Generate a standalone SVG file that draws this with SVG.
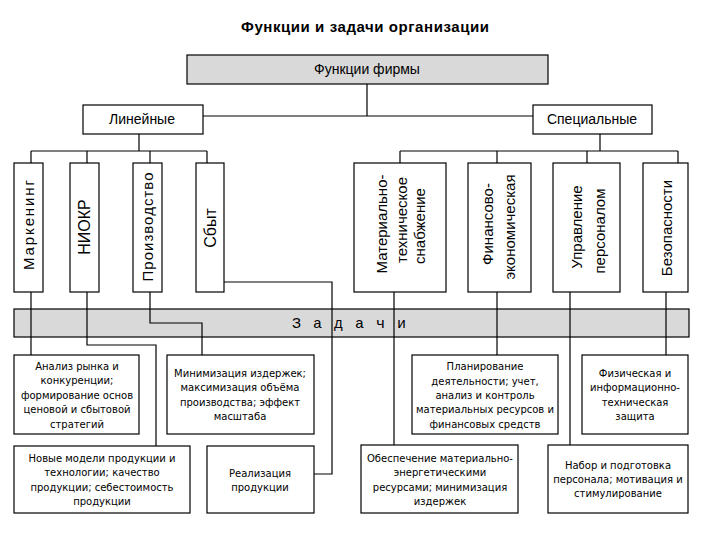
<svg xmlns="http://www.w3.org/2000/svg" width="720" height="540" viewBox="0 0 720 540">
<style>
.bx{fill:#fff;stroke:#000;stroke-width:1.2}
.gr{fill:#d9d9d9;stroke:#000;stroke-width:1.2}
.ln{fill:none;stroke:#000;stroke-width:1.2}
.t{font-family:"Liberation Sans",Arial,sans-serif;font-size:14px;fill:#000;text-anchor:middle}
.v{font-family:"Liberation Sans",Arial,sans-serif;font-size:15px;fill:#000;text-anchor:middle}
.s{font-family:"DejaVu Sans",Verdana,sans-serif;font-size:10px;fill:#000;text-anchor:middle}
.ttl{font-family:"Liberation Sans",Arial,sans-serif;font-size:15px;font-weight:bold;fill:#000;text-anchor:middle}
.z{font-family:"Liberation Mono","Courier New",monospace;font-size:15px;fill:#000;letter-spacing:1.5px}
</style>
<rect width="720" height="540" fill="#fff"/>
<text class="ttl" x="365" y="32" textLength="248" lengthAdjust="spacing">Функции и задачи организации</text>

<g id="zadachi">
<rect class="gr" x="14" y="309" width="675" height="28"/>
<text class="z" x="292" y="328">З а д а ч и</text>
</g>

<g id="connectors">
<path class="ln" d="M367,84V116M203,116H533M139,134V151M31,151H207M31,151V163M87,151V163M150,151V163M207,151V163"/>
<path class="ln" d="M600,134V151M400,151H678M400,151V163M497,151V163M587,151V163M678,151V163"/>
<path class="ln" d="M31,292V355M87,292V345H156V446M150,292V323H202V355M224,282H332V474H314"/>
<path class="ln" d="M394,292V445M497,292V355M570,292V445M666,292V355"/>
</g>

<g id="func">
<rect class="gr" x="187" y="55" width="361" height="29"/>
<text class="t" x="367" y="74">Функции фирмы</text>
</g>
<g id="lin">
<rect class="bx" x="83" y="105" width="120" height="29"/>
<text class="t" x="142" y="124">Линейные</text>
</g>
<g id="spec">
<rect class="bx" x="533" y="105" width="119" height="29"/>
<text class="t" x="592" y="124">Специальные</text>
</g>

<g id="marketing">
<rect class="bx" x="14" y="163" width="29" height="129"/>
<text class="v" transform="translate(34,225) rotate(-90)" textLength="90" lengthAdjust="spacing">Маркенинг</text>
</g>
<g id="niokr">
<rect class="bx" x="70" y="163" width="29" height="129"/>
<text class="v" transform="translate(90,227) rotate(-90)" style="font-size:16px">НИОКР</text>
</g>
<g id="proizv">
<rect class="bx" x="133" y="163" width="29" height="129"/>
<text class="v" transform="translate(153,227) rotate(-90)" textLength="109" lengthAdjust="spacing">Производство</text>
</g>
<g id="sbyt">
<rect class="bx" x="196" y="163" width="28" height="129"/>
<text class="v" transform="translate(216,228) rotate(-90)" style="font-size:16px">Сбыт</text>
</g>

<g id="mts">
<rect class="bx" x="354" y="163" width="92" height="129"/>
<text class="v" transform="translate(387,224) rotate(-90)">Материально-</text>
<text class="v" transform="translate(407,220) rotate(-90)">техническое</text>
<text class="v" transform="translate(425,226) rotate(-90)">снабжение</text>
</g>
<g id="fin">
<rect class="bx" x="468" y="163" width="63" height="129"/>
<text class="v" transform="translate(493,224) rotate(-90)">Финансово-</text>
<text class="v" transform="translate(515,227) rotate(-90)">экономическая</text>
</g>
<g id="upr">
<rect class="bx" x="553" y="163" width="67" height="129"/>
<text class="v" transform="translate(582,227) rotate(-90)">Управление</text>
<text class="v" transform="translate(605,231) rotate(-90)">персоналом</text>
</g>
<g id="bez">
<rect class="bx" x="643" y="163" width="45" height="129"/>
<text class="v" transform="translate(672,228) rotate(-90)">Безопасности</text>
</g>

<g id="analiz">
<rect class="bx" x="14" y="355" width="125" height="79"/>
<text class="s" x="77"><tspan x="77" y="370">Анализ рынка и</tspan><tspan x="77" y="384">конкуренции;</tspan><tspan x="77" y="399">формирование основ</tspan><tspan x="77" y="413">ценовой и сбытовой</tspan><tspan x="77" y="428">стратегий</tspan></text>
</g>
<g id="minim">
<rect class="bx" x="167" y="355" width="147" height="79"/>
<text class="s" x="240"><tspan x="240" y="377">Минимизация издержек;</tspan><tspan x="240" y="391">максимизация объёма</tspan><tspan x="240" y="406">производства; эффект</tspan><tspan x="240" y="420">масштаба</tspan></text>
</g>
<g id="novye">
<rect class="bx" x="14" y="446" width="176" height="67"/>
<text class="s" x="102"><tspan x="102" y="462">Новые модели продукции и</tspan><tspan x="102" y="476">технологии; качество</tspan><tspan x="102" y="491">продукции; себестоимость</tspan><tspan x="102" y="505">продукции</tspan></text>
</g>
<g id="realiz">
<rect class="bx" x="207" y="446" width="107" height="67"/>
<text class="s" x="260"><tspan x="260" y="477">Реализация</tspan><tspan x="260" y="491">продукции</tspan></text>
</g>
<g id="plan">
<rect class="bx" x="412" y="355" width="146" height="79"/>
<text class="s" x="485"><tspan x="485" y="370">Планирование</tspan><tspan x="485" y="385">деятельности; учет,</tspan><tspan x="485" y="399">анализ и контроль</tspan><tspan x="485" y="413">материальных ресурсов и</tspan><tspan x="485" y="428">финансовых средств</tspan></text>
</g>
<g id="fiz">
<rect class="bx" x="582" y="355" width="106" height="79"/>
<text class="s" x="635"><tspan x="635" y="377">Физическая и</tspan><tspan x="635" y="391">информационно-</tspan><tspan x="635" y="406">техническая</tspan><tspan x="635" y="420">защита</tspan></text>
</g>
<g id="obesp">
<rect class="bx" x="361" y="445" width="157" height="68"/>
<text class="s" x="440"><tspan x="440" y="462">Обеспечение материально-</tspan><tspan x="440" y="476">энергетическими</tspan><tspan x="440" y="491">ресурсами; минимизация</tspan><tspan x="440" y="505">издержек</tspan></text>
</g>
<g id="nabor">
<rect class="bx" x="548" y="445" width="140" height="68"/>
<text class="s" x="618"><tspan x="618" y="469">Набор и подготовка</tspan><tspan x="618" y="483">персонала; мотивация и</tspan><tspan x="618" y="497">стимулирование</tspan></text>
</g>
</svg>
